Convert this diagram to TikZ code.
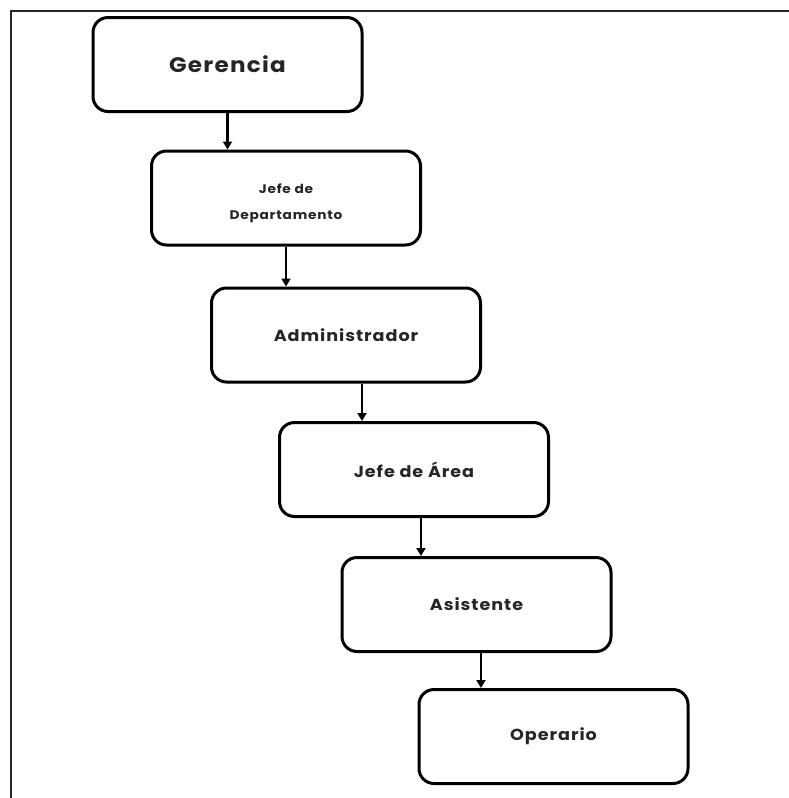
\documentclass[tikz,border=0pt]{standalone}
\usepackage{fontspec}
\setmainfont{Poppins}[FakeStretch=1.1, LetterSpace=6]
\usetikzlibrary{arrows.meta}
\tikzset{
  box/.style={draw=black, line width=3pt, rounded corners=15pt, rectangle,
    minimum width=269pt, minimum height=94pt, inner sep=0pt, align=center,
    text=black!85, font=\bfseries\fontsize{16}{18}\selectfont},
  arr/.style={line width=2.5pt, -{Triangle[length=8pt,width=9pt]}},
  frame/.style={line width=2pt, black!85}
}
\begin{document}
\begin{tikzpicture}[x=1pt,y=-1pt]
\useasboundingbox (0,0) rectangle (789,798);
\coordinate (fo) at (10.5,11);
\coordinate (fr) at (789,11);
\coordinate (fb) at (10.5,798);
\draw[frame] (fr) -- (fo) -- (fb);
\node[box, font=\bfseries\fontsize{21}{22}\selectfont] (ger) at (227.5,64.5) {Gerencia};
\node[box, font=\bfseries\fontsize{12.5}{27}\selectfont] (jdd) at (286,198) {\raisebox{-5pt}[\height][\depth]{\shortstack{Jefe de\\[14pt]Departamento}}};
\node[box] (adm) at (346,335) {Administrador};
\node[box] (ja) at (414,469.5) {Jefe de Área};
\node[box] (asi) at (476.5,604.5) {Asistente};
\node[box] (ope) at (553.5,736.5) {Operario};
\draw[arr] (ger.south) -- (ger.south |- jdd.north);
\draw[arr] (jdd.south) -- (jdd.south |- adm.north);
\draw[arr] ([xshift=16pt]adm.south) -- ([xshift=16pt]adm.south |- ja.north);
\draw[arr] ([xshift=7pt]ja.south) -- ([xshift=7pt]ja.south |- asi.north);
\draw[arr] ([xshift=4.5pt]asi.south) -- ([xshift=4.5pt]asi.south |- ope.north);
\end{tikzpicture}
\end{document}
